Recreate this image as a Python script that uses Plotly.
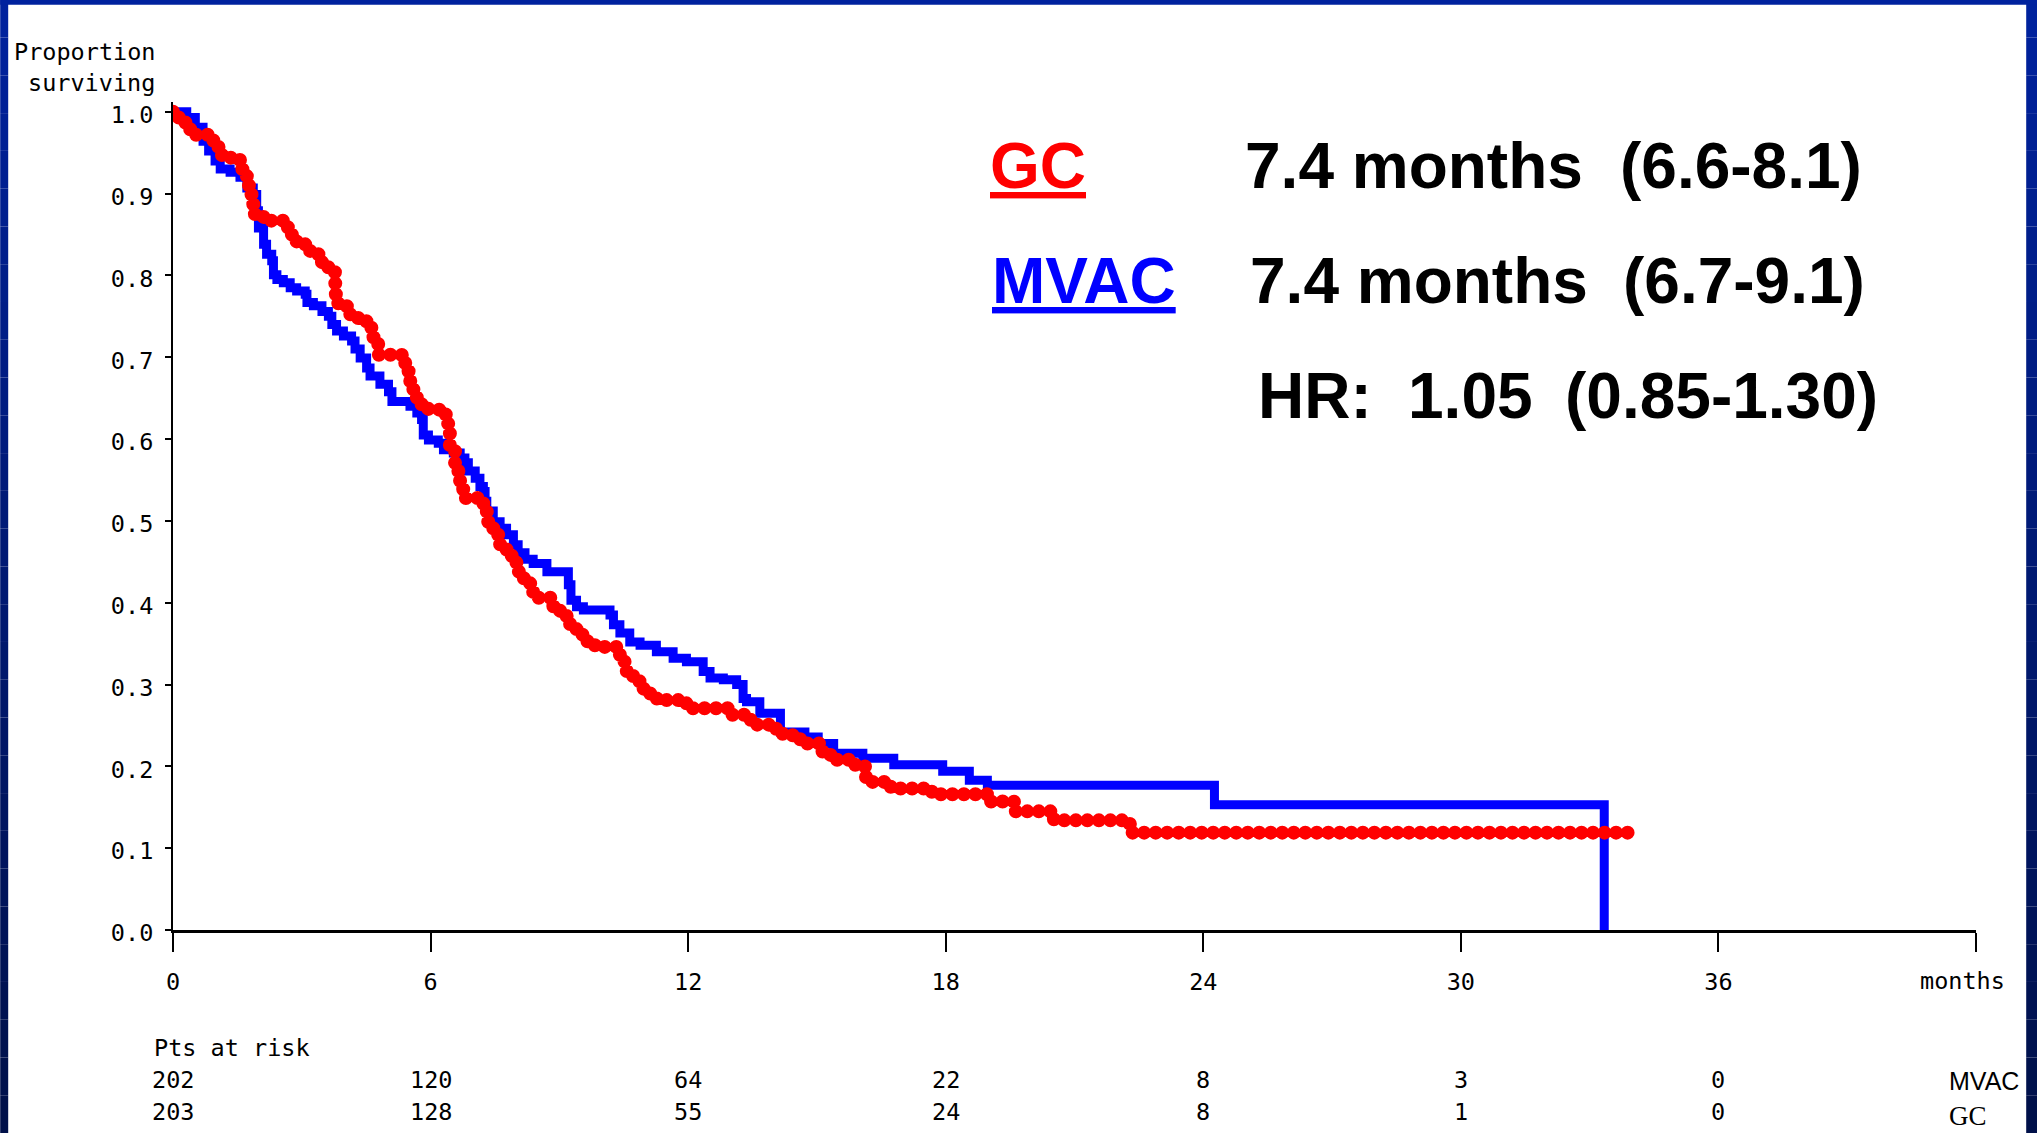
import plotly.graph_objects as go

# ---------------- data ----------------
mvac_months = [0.00, 0.32, 0.52, 0.70, 0.83, 0.98, 1.10, 1.33, 1.56, 1.72, 1.87, 1.95, 1.99, 2.11, 2.18,
               2.30, 2.34, 2.42, 2.57, 2.73, 2.88, 3.08, 3.12, 3.27, 3.47, 3.62, 3.70, 3.81, 3.97, 4.16,
               4.24, 4.36, 4.51, 4.59, 4.82, 5.02, 5.10, 5.52, 5.68, 5.79, 5.83, 5.95, 6.18, 6.30, 6.53,
               6.69, 6.80, 6.88, 7.04, 7.15, 7.23, 7.27, 7.31, 7.46, 7.62, 7.77, 7.93, 8.04, 8.20, 8.39,
               8.71, 9.21, 9.27, 9.40, 9.56, 10.18, 10.26, 10.41, 10.64, 10.88, 11.26, 11.65, 11.96, 12.35,
               12.51, 12.82, 13.13, 13.28, 13.36, 13.67, 14.15, 14.72, 15.03, 15.39, 16.07, 16.79, 17.93,
               18.55, 18.97, 24.26, 33.34]
mvac_surv = [1.000, 0.993, 0.981, 0.964, 0.952, 0.940, 0.930, 0.926, 0.920, 0.907, 0.899, 0.879, 0.858, 0.838,
             0.826, 0.818, 0.801, 0.795, 0.791, 0.785, 0.781, 0.777, 0.767, 0.763, 0.756, 0.750, 0.740, 0.732,
             0.726, 0.720, 0.710, 0.699, 0.687, 0.677, 0.667, 0.658, 0.646, 0.640, 0.632, 0.624, 0.605, 0.599,
             0.595, 0.587, 0.583, 0.577, 0.571, 0.561, 0.552, 0.542, 0.536, 0.524, 0.512, 0.499, 0.491, 0.483,
             0.471, 0.461, 0.453, 0.448, 0.438, 0.422, 0.403, 0.395, 0.391, 0.385, 0.373, 0.363, 0.352, 0.348,
             0.340, 0.332, 0.328, 0.316, 0.308, 0.306, 0.300, 0.283, 0.279, 0.265, 0.242, 0.236, 0.228, 0.216,
             0.210, 0.202, 0.194, 0.183, 0.177, 0.153, 0.000]

gc_months = [0.00, 0.05, 0.25, 0.40, 0.94, 1.06, 1.14, 1.56, 1.72, 1.77, 1.87, 2.11, 2.65, 2.77, 2.88, 3.08,
             3.27, 3.47, 3.66, 3.78, 3.85, 4.05, 4.13, 4.36, 4.51, 4.67, 4.78, 5.33, 5.41, 5.52, 5.60, 5.68,
             5.79, 5.95, 6.22, 6.38, 6.41, 6.45, 6.57, 6.65, 6.76, 7.15, 7.23, 7.31, 7.46, 7.62, 7.77, 7.89,
             8.00, 8.16, 8.32, 8.39, 8.86, 9.02, 9.17, 9.25, 9.40, 9.56, 9.71, 9.87, 10.41, 10.57, 10.72,
             10.88, 11.11, 11.27, 11.96, 12.95, 13.37, 13.58, 13.99, 14.20, 14.61, 15.13, 15.33, 15.86, 16.12,
             16.20, 16.69, 16.90, 17.62, 17.73, 18.97, 19.59, 20.52, 22.29, 34.04]
gc_surv = [1.000, 0.993, 0.987, 0.972, 0.964, 0.956, 0.944, 0.930, 0.916, 0.899, 0.875, 0.867, 0.859, 0.848,
           0.838, 0.830, 0.826, 0.810, 0.804, 0.777, 0.763, 0.756, 0.748, 0.744, 0.736, 0.724, 0.703, 0.695,
           0.683, 0.671, 0.658, 0.646, 0.640, 0.636, 0.630, 0.626, 0.614, 0.586, 0.561, 0.549, 0.528, 0.524,
           0.512, 0.499, 0.483, 0.471, 0.463, 0.450, 0.438, 0.430, 0.418, 0.406, 0.393, 0.385, 0.377, 0.369,
           0.361, 0.353, 0.348, 0.346, 0.328, 0.316, 0.304, 0.295, 0.289, 0.281, 0.271, 0.263, 0.257, 0.251,
           0.246, 0.238, 0.228, 0.214, 0.208, 0.202, 0.187, 0.181, 0.175, 0.173, 0.169, 0.166, 0.157, 0.145,
           0.134, 0.119, 0.119]

x_tick_vals = [0, 6, 12, 18, 24, 30, 36, 42]
x_tick_text = ["0", "6", "12", "18", "24", "30", "36", ""]
y_tick_vals = [0.0, 0.1, 0.2, 0.3, 0.4, 0.5, 0.6, 0.7, 0.8, 0.9, 1.0]
y_tick_text = ["0.0", "0.1", "0.2", "0.3", "0.4", "0.5", "0.6", "0.7", "0.8", "0.9", "1.0"]

risk_times = [0, 6, 12, 18, 24, 30, 36]
risk_mvac = [202, 120, 64, 22, 8, 3, 0]
risk_gc = [203, 128, 55, 24, 8, 1, 0]

assert len(mvac_months) == len(mvac_surv)
assert len(gc_months) == len(gc_surv)

# ---------------- geometry ----------------
W, H = 2037, 1133
L, R = 172.8, 1975.8      # pixel x of 0 and 42 months
B, T = 930.0, 102.2       # pixel y of bottom (0) and top of plot area
Y_TOP = 1.012


def fx(px):
    return (px - L) / (R - L)


def fy(py):
    return (B - py) / (B - T)


MONO = "DejaVu Sans Mono, monospace"
BIG = dict(family="Liberation Sans, Arial, sans-serif", size=64, color="black", weight="bold")

fig = go.Figure()
fig.add_trace(go.Scatter(x=mvac_months, y=mvac_surv, mode="lines", line_shape="hv",
                         line=dict(color="#0000ff", width=9), name="MVAC", hoverinfo="skip"))
fig.add_trace(go.Scatter(x=gc_months, y=gc_surv, mode="lines", line_shape="hv",
                         line=dict(color="#ff0000", width=14, dash="7px,5px"), name="GC", hoverinfo="skip"))

annotations = []


def ann(text, px, py, font, xanchor="left", xref="paper", x=None):
    annotations.append(dict(text=text, xref=xref, yref="paper",
                            x=fx(px) if x is None else x, y=fy(py),
                            xanchor=xanchor, yanchor="middle", showarrow=False, font=font))


# y-axis title
ann("Proportion", 157, 52, dict(family=MONO, size=23.5, color="black"), xanchor="right")
ann("surviving", 157, 83, dict(family=MONO, size=23.5, color="black"), xanchor="right")
# x label at the last tick
ann("months", 1962, 981, dict(family=MONO, size=23.5, color="black"), xanchor="center")

# big summary text
ann("GC", 988, 166.5, dict(BIG, color="#ff0000", lineposition="under"))
ann("7.4 months", 1243, 166.5, BIG)
ann("(6.6-8.1)", 1618, 166.5, BIG)
ann("MVAC", 990, 281.5, dict(BIG, color="#0000ff", lineposition="under"))
ann("7.4 months", 1248, 281.5, BIG)
ann("(6.7-9.1)", 1621, 281.5, BIG)
ann("HR:", 1256, 396, BIG)
ann("1.05", 1406, 396, BIG)
ann("(0.85-1.30)", 1563, 396, BIG)

# patients at risk
ann("Pts at risk", 152, 1048, dict(family=MONO, size=23.5, color="black"))
for t, n in zip(risk_times, risk_mvac):
    ann(str(n), 0, 1080, dict(family=MONO, size=23.5, color="black"), xanchor="center", xref="x", x=t)
for t, n in zip(risk_times, risk_gc):
    ann(str(n), 0, 1112, dict(family=MONO, size=23.5, color="black"), xanchor="center", xref="x", x=t)
ann("MVAC", 1947, 1080.5, dict(family="Liberation Sans Narrow, Arial Narrow, Liberation Sans, sans-serif",
                              size=25, color="black"))
ann("GC", 1947, 1116, dict(family="Liberation Serif, Times New Roman, serif", size=27, color="black"))

# border frame (blue, darkening downwards)
shapes = []
N = 30
c0 = (0, 34, 158)
c1 = (0, 16, 72)
for i in range(N):
    y0p = H * i / N
    y1p = H * (i + 1) / N
    f = (i + 0.5) / N
    col = "rgb(%d,%d,%d)" % tuple(round(a + (b - a) * f) for a, b in zip(c0, c1))
    for xa, xb in ((0, 8), (2026, W)):
        shapes.append(dict(type="rect", xref="paper", yref="paper", x0=fx(xa), x1=fx(xb),
                           y0=fy(y1p), y1=fy(y0p), fillcolor=col, line=dict(width=0), layer="above"))
shapes.append(dict(type="rect", xref="paper", yref="paper", x0=fx(0), x1=fx(W), y0=fy(5), y1=fy(0),
                   fillcolor="rgb(0,34,158)", line=dict(width=0), layer="above"))

fig.update_layout(
    width=W, height=H, autosize=False,
    margin=dict(l=L, r=W - R, t=T, b=H - B, pad=0, autoexpand=False),
    paper_bgcolor="white", plot_bgcolor="white",
    showlegend=False,
    annotations=annotations,
    shapes=shapes,
    xaxis=dict(range=[0, 42], tickmode="array", tickvals=x_tick_vals, ticktext=x_tick_text,
               ticks="outside", ticklen=19, tickwidth=2, tickcolor="black",
               showline=True, linewidth=3, linecolor="black", showgrid=False, zeroline=False,
               tickfont=dict(family=MONO, size=23.5, color="black"), ticklabelstandoff=10, fixedrange=True),
    yaxis=dict(range=[0, Y_TOP], tickmode="array", tickvals=y_tick_vals, ticktext=y_tick_text,
               ticks="outside", ticklen=6, tickwidth=2, tickcolor="black",
               showline=True, linewidth=2, linecolor="black", showgrid=False, zeroline=False,
               tickfont=dict(family=MONO, size=23.5, color="black"), ticklabelstandoff=7,
               ticklabelshift=3, fixedrange=True),
)

post = """
document.body.style.margin = '0';
document.body.style.padding = '0';
document.body.style.overflow = 'hidden';
var gd = document.getElementById('{plot_id}');
var tr = gd.querySelectorAll('.scatterlayer .trace');
if (tr.length > 1) {
  var p = tr[1].querySelector('path.js-line');
  if (p) { p.style.strokeLinecap = 'round'; p.style.strokeLinejoin = 'round'; p.style.strokeDasharray = '0.01px,11.5px'; }
}
"""

fig.write_html("out.html", config={"displayModeBar": False}, post_script=post)
